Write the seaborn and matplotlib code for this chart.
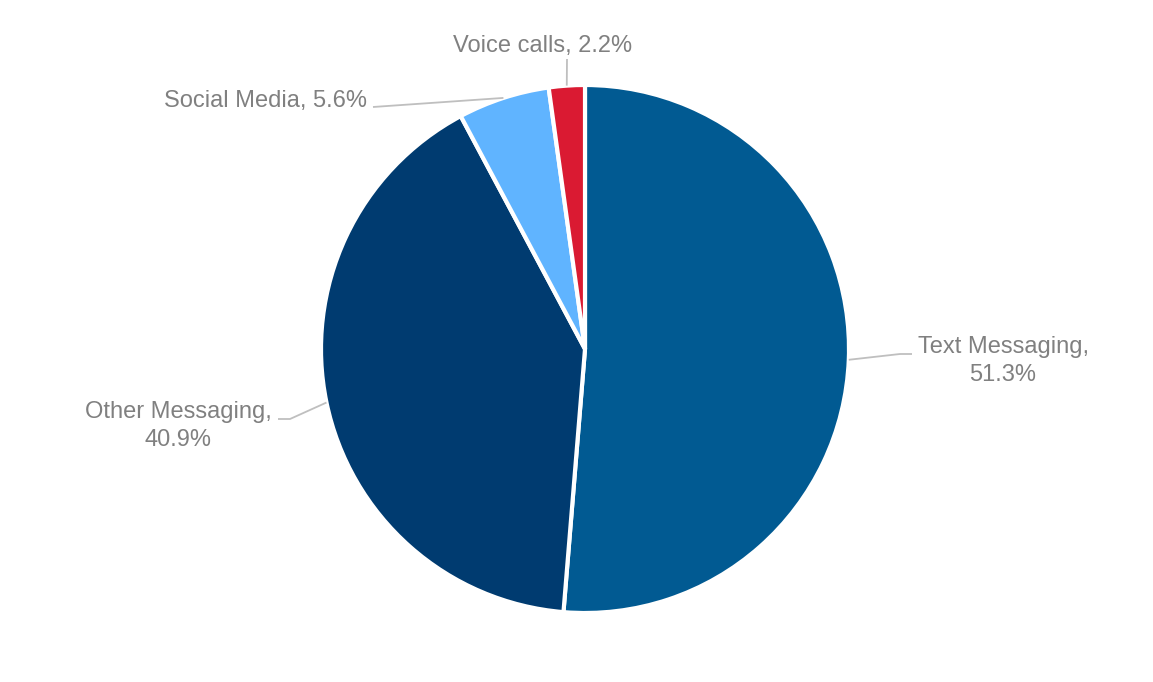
import numpy as np
import matplotlib
matplotlib.use("Agg")
import matplotlib.pyplot as plt
import seaborn as sns

categories = ["Text Messaging", "Other Messaging", "Social Media", "Voice calls"]
shares = [51.3, 40.9, 5.6, 2.2]
colors = ["#015A92", "#003B70", "#60B4FF", "#DA1A32"]

sns.set_theme(style="white")
plt.rcParams["font.family"] = ["Liberation Sans", "DejaVu Sans"]

W, H = 1153, 682
fig = plt.figure(figsize=(W / 100, H / 100), dpi=100)
cx, cy, R = 585, 349, 264
ax = fig.add_axes([(cx - R) / W, (H - cy - R) / H, 2 * R / W, 2 * R / H])

palette = sns.color_palette(colors)
wedges, _ = ax.pie(shares, colors=palette, startangle=90, counterclock=False,
                   radius=1.0, wedgeprops=dict(edgecolor="white", linewidth=3))
ax.set_xlim(-1, 1)
ax.set_ylim(-1, 1)
ax.set_aspect("equal")
ax.axis("off")

def px(x, y):
    return ((x - cx) / R, (cy - y) / R)

# label layout (pixel positions) and leader line bend points
layout = {
    "Text Messaging": dict(text=(1003, 361), pts=[(900, 354), (912, 354)], two=True),
    "Other Messaging": dict(text=(178, 426), pts=[(290, 419), (278, 419)], two=True),
    "Social Media": dict(text=(266, 101), pts=[(373, 107)], two=False),
    "Voice calls": dict(text=(543, 46), pts=[(567, 59)], two=False),
}

gray = "#808080"
linec = "#BFBFBF"
for w, cat, val in zip(wedges, categories, shares):
    ang = np.deg2rad((w.theta1 + w.theta2) / 2)
    ex, ey = np.cos(ang), np.sin(ang)
    L = layout[cat]
    xs = [ex] + [px(*p)[0] for p in L["pts"]]
    ys = [ey] + [px(*p)[1] for p in L["pts"]]
    ax.plot(xs, ys, color=linec, lw=1.3, clip_on=False, solid_capstyle="butt")
    label = f"{cat},\n{val:.1f}%" if L["two"] else f"{cat}, {val:.1f}%"
    tx, ty = px(*L["text"])
    ax.text(tx, ty, label, ha="center", va="center", fontsize=17, color=gray,
            linespacing=1.32, clip_on=False)

fig.savefig("out.png", dpi=100, facecolor="white")
